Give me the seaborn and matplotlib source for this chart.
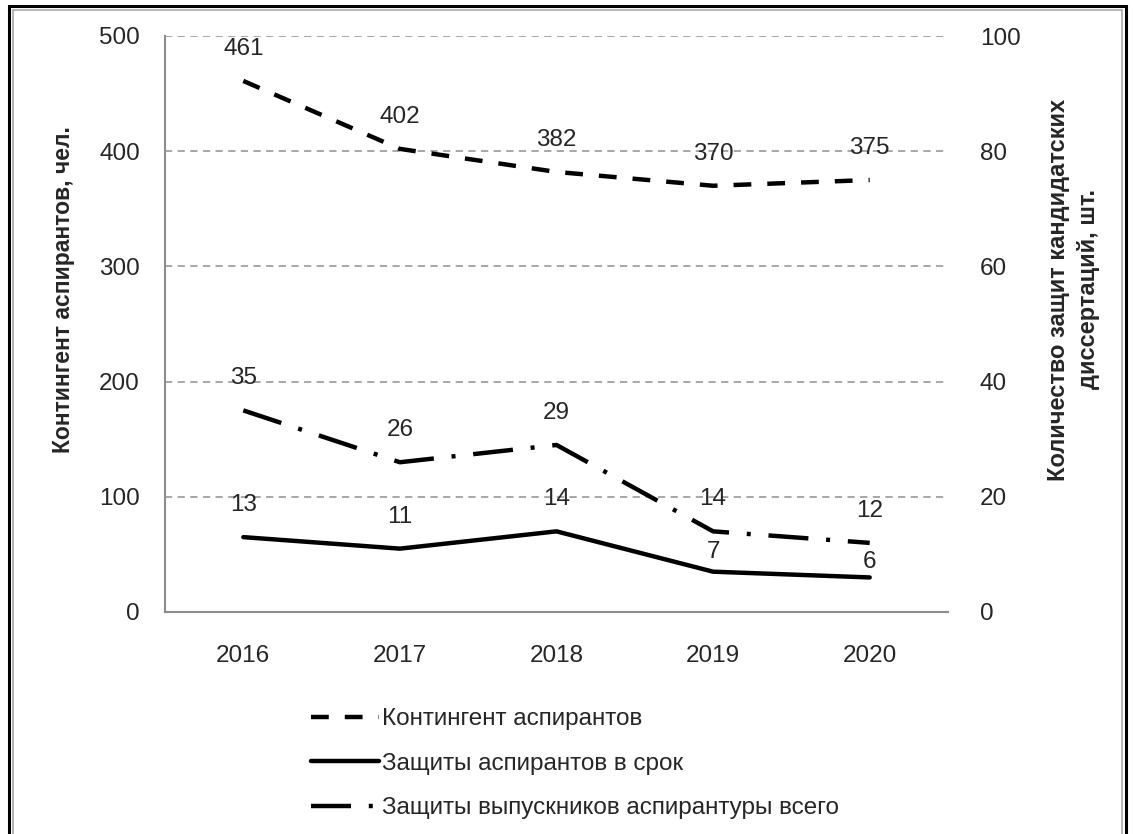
import matplotlib

matplotlib.use("Agg")
import matplotlib.pyplot as plt
import pandas as pd
import seaborn as sns
from matplotlib.patches import Rectangle

years = [2016, 2017, 2018, 2019, 2020]
contingent = [461, 402, 382, 370, 375]
defended_on_time = [13, 11, 14, 7, 6]
defended_total = [35, 26, 29, 14, 12]

left_ticks = [0, 100, 200, 300, 400, 500]
right_ticks = [0, 20, 40, 60, 80, 100]

name_contingent = "Контингент аспирантов"
name_on_time = "Защиты аспирантов в срок"
name_total = "Защиты выпускников аспирантуры всего"
left_label = "Контингент аспирантов, чел."
right_label = "Количество защит кандидатских\nдиссертаций, шт."

# label offsets in points (Excel nudged two labels down to dodge the other line)
offset_contingent = [23, 23, 23, 23, 23]
offset_on_time = [23, 23, 23, 14, 11]
offset_total = [23, 23, 23, 23, 23]


def main():
    sns.set_style("white")
    plt.rcParams["font.family"] = ["Liberation Sans", "DejaVu Sans"]
    font_size = 17.5
    grid_color = "#a0a0a0"
    lw = 3.2

    df = pd.DataFrame(
        {
            "year": years,
            "contingent": contingent,
            "on_time": defended_on_time,
            "total": defended_total,
        }
    )

    fig = plt.figure(figsize=(11.33, 8.34), dpi=100)
    ax = fig.add_axes([165 / 1133, 1 - 612 / 834, 783 / 1133, 576 / 834])
    ax2 = ax.twinx()

    sns.lineplot(
        data=df, x="year", y="contingent", ax=ax, color="black", lw=lw,
        linestyle=(0, (4, 3.6)), label=name_contingent, legend=False,
    )
    sns.lineplot(
        data=df, x="year", y="on_time", ax=ax2, color="black", lw=lw,
        label=name_on_time, legend=False,
    )
    sns.lineplot(
        data=df, x="year", y="total", ax=ax2, color="black", lw=lw,
        linestyle=(0, (9, 4, 0.9, 4)), label=name_total, legend=False,
    )

    # data labels
    for axis, values, offs in [
        (ax, contingent, offset_contingent),
        (ax2, defended_on_time, offset_on_time),
        (ax2, defended_total, offset_total),
    ]:
        for x, v, o in zip(years, values, offs):
            axis.annotate(
                str(v), (x, v), xytext=(0, o), textcoords="offset points",
                ha="center", va="center", fontsize=font_size,
            )

    ax.set_xlim(years[0] - 0.5, years[-1] + 0.5)
    ax.set_ylim(left_ticks[0], left_ticks[-1])
    ax2.set_ylim(right_ticks[0], right_ticks[-1])
    ax.set_yticks(left_ticks)
    ax2.set_yticks(right_ticks)
    ax.set_xticks(years)
    ax.set_xticks([y - 0.5 for y in years] + [years[-1] + 0.5], minor=True)

    ax.yaxis.grid(True, color=grid_color, linestyle=(0, (4, 3)), lw=1.3)
    ax.xaxis.grid(False)

    for a in (ax, ax2):
        for side in ["top", "right"]:
            a.spines[side].set_visible(False)
    ax2.spines["left"].set_visible(False)
    ax2.spines["bottom"].set_visible(False)
    for side in ["left", "bottom"]:
        ax.spines[side].set_color("#8c8c8c")
        ax.spines[side].set_linewidth(1.5)

    ax.tick_params(axis="x", which="major", length=0, pad=24, labelsize=font_size)
    ax.tick_params(axis="x", which="minor", length=7, width=1.5, color="#8c8c8c")
    ax.tick_params(axis="y", length=0, pad=18, labelsize=font_size)
    ax2.tick_params(axis="y", length=0, pad=23, labelsize=font_size)

    ax.set_xlabel(None)
    ax.set_ylabel(left_label, fontsize=font_size - 1, fontweight="bold")
    ax2.set_ylabel(right_label, fontsize=font_size - 0.5, fontweight="bold",
                   linespacing=1.35)
    ax.yaxis.set_label_coords(-0.115, 0.56)
    ax2.yaxis.set_label_coords(1.127, 0.56)

    handles = ax.get_lines()[:1] + ax2.get_lines()[:2]
    fig.legend(
        handles, [h.get_label() for h in handles],
        loc="upper left", bbox_to_anchor=(299 / 1133, 1 - 696 / 834),
        frameon=False, fontsize=font_size, handlelength=2.8,
        handletextpad=0.1, labelspacing=0.93, borderpad=0,
    )

    # frame round the whole picture
    fig.patches.append(
        Rectangle((0.008, -0.01), 0.986, 1.003, transform=fig.transFigure,
                  fill=False, edgecolor="black", lw=2.2)
    )
    fig.patches.append(
        Rectangle((0.0115, -0.01), 0.979, 0.998, transform=fig.transFigure,
                  fill=False, edgecolor="#a8a8a8", lw=1.2)
    )

    fig.savefig("out.png", dpi=100)
    plt.close(fig)


if __name__ == "__main__":
    main()
